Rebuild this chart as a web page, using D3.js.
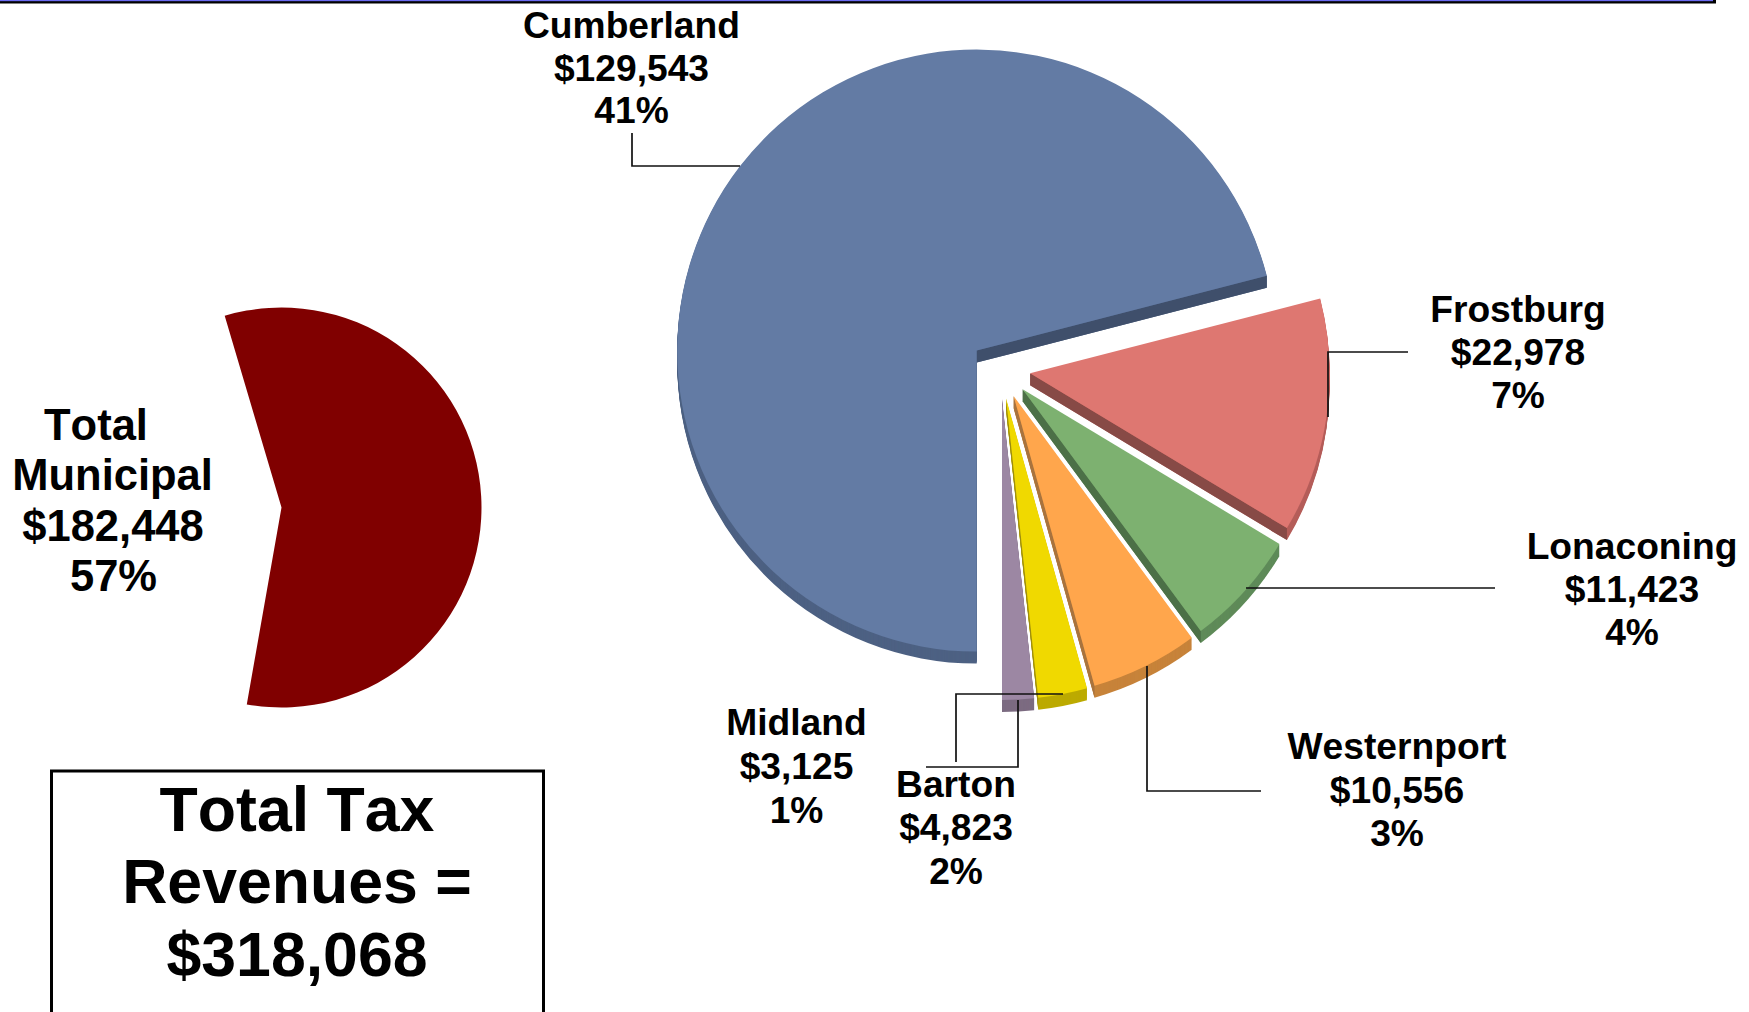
<!DOCTYPE html>
<html>
<head>
<meta charset="utf-8">
<script src="https://d3js.org/d3.v7.min.js"></script>
<style>
html,body{margin:0;padding:0;background:#fff;overflow:hidden}
svg{display:block}
text{font-family:"Liberation Sans",Arial,sans-serif;font-weight:bold;fill:#000;text-anchor:middle;font-kerning:none}
</style>
</head>
<body>
<svg id="chart" width="1749" height="1012"></svg>
<script>
// ---- data ----
const municipalities = ["Cumberland","Frostburg","Lonaconing","Westernport","Barton","Midland"];
const taxRevenue = [129543,22978,11423,10556,4823,3125];
const revenueLabels = ["$129,543","$22,978","$11,423","$10,556","$4,823","$3,125"];
const shareLabels = ["41%","7%","4%","3%","2%","1%"];
const totalGroups = ["Total Municipal","Other"];
const totalValues = [182448,135620];
const totalLabelLines = ["Total","Municipal","$182,448","57%"];
const boxLines = ["Total Tax","Revenues =","$318,068"];

// ---- styles ----
const topColors  = ["#637ba4","#de7771","#7db170","#ffa64c","#f0d900","#9c87a3"];
const rimColors  = ["#4d6183","#b55e5a","#5f8b59","#c7833a","#bcaa00","#7c6b81"];
const wallColors = ["#3f4f6b","#874a46","#4c7047","#a8733e","#9c8c10","#7c6b81"];

// ---- layout ----
const mainCentre = [1000.4,369], mainRadius = 301, xSquash = 0.995, explode = 30, depth = 12;
const leftCentre = [281.5,507.5], leftRadius = 200;
const totalLabelX = [96,112.6,113,113.5];
const labelCentreX = [631.5,1518,1632,1397,956,796.5];
const labelFirstBase = [38,322,559,759,797,735];
const labelSteps = [42.6,43.2,43.2,43.5,43.3,44];
const leaders = [
  [[632,133],[632,166],[740,166]],
  [[1328,417],[1328,352],[1408,352]],
  [[1246,588],[1495,588]],
  [[1147,666],[1147,791],[1261,791]],
  [[1063,694],[956,694],[956,762]],
  [[1018,700],[1018,767],[926,767]]
];

const svg = d3.select("#chart");
const rad = d => d*Math.PI/180;

// top rule
svg.append("rect").attr("x",0).attr("y",0).attr("width",1716).attr("height",3.5).attr("fill","#000");
svg.append("rect").attr("x",0).attr("y",0).attr("width",1713).attr("height",1.2).attr("fill","#6a6af0");

// ---- left pie ----
const leftPie = d3.pie().sort(null).startAngle(rad(-16.5)).endAngle(rad(343.5))(totalValues);
const leftArc = d3.arc().innerRadius(0).outerRadius(leftRadius);
svg.append("path").attr("transform",`translate(${leftCentre})`)
  .attr("d",leftArc(leftPie[0])).attr("fill","#800000");

svg.append("g").selectAll("text").data(totalLabelLines).join("text")
  .attr("x",(d,i)=>totalLabelX[i]).attr("y",(d,i)=>440+i*50.4).attr("font-size",43.5).text(d=>d);

// ---- main pie ----
const pieData = d3.pie().sort(null).startAngle(Math.PI).endAngle(3*Math.PI)(taxRevenue);
const arc = d3.arc().innerRadius(0).outerRadius(mainRadius);

const slices = svg.append("g").selectAll("g").data(pieData).join("g")
  .attr("transform",d=>{
    const m=(d.startAngle+d.endAngle)/2;
    return `translate(${mainCentre[0]+explode*Math.sin(m)},${mainCentre[1]-explode*Math.cos(m)}) scale(${xSquash},1)`;
  });

slices.each(function(d,i){
  const g=d3.select(this);
  // extruded rim
  g.selectAll("path.rim").data(d3.range(depth,0,-1)).join("path")
    .attr("class","rim").attr("d",arc(d)).attr("fill",rimColors[i])
    .attr("transform",k=>`translate(0,${k})`);
  // radial wall along the closing edge
  const ex=mainRadius*Math.sin(d.endAngle), ey=-mainRadius*Math.cos(d.endAngle);
  const wall=d3.line()([[0,0],[ex,ey],[ex,ey+depth],[0,depth]])+"Z";
  g.append("path").attr("d",wall).attr("fill",wallColors[i]);
  // top face
  g.append("path").attr("d",arc(d)).attr("fill",topColors[i]);
});

// ---- leaders ----
svg.append("g").selectAll("path").data(leaders).join("path")
  .attr("d",d3.line()).attr("fill","none").attr("stroke","#111").attr("stroke-width",1.7);

// ---- labels ----
const lab = svg.append("g").selectAll("g").data(municipalities).join("g");
lab.each(function(name,i){
  const lines=[name,revenueLabels[i],shareLabels[i]];
  d3.select(this).selectAll("text").data(lines).join("text")
    .attr("x",labelCentreX[i]).attr("y",(t,j)=>labelFirstBase[i]+j*labelSteps[i])
    .attr("font-size",37.2).text(t=>t);
});

// ---- summary box ----
svg.append("path").attr("d",d3.line()([[51.5,1013],[51.5,771],[543.5,771],[543.5,1013]]))
  .attr("fill","none").attr("stroke","#000").attr("stroke-width",3);
svg.append("g").selectAll("text").data(boxLines).join("text")
  .attr("x",297).attr("y",(d,i)=>830.5+i*72.8).attr("font-size",62.6).text(d=>d);
</script>
</body>
</html>
